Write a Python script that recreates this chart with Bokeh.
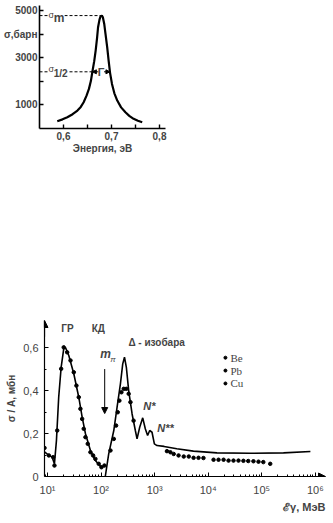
import numpy as np
from bokeh.plotting import figure
from bokeh.models import (Range1d, FixedTicker, Label, Arrow, NormalHead,
                          CustomJSTickFormatter, Title)
from bokeh.embed import file_html
from bokeh.resources import INLINE

# ---------------- top chart data (resonance curve) ----------------
res_energy = [0.587, 0.598, 0.608, 0.619, 0.629, 0.636, 0.642, 0.648, 0.653, 0.657,
              0.660, 0.664, 0.667, 0.670, 0.672, 0.675, 0.677, 0.680, 0.682, 0.685,
              0.6875, 0.691, 0.694, 0.697, 0.701, 0.706, 0.712, 0.720, 0.729, 0.737,
              0.746, 0.755, 0.764]
res_sigma = [289, 370, 460, 590, 744, 900, 1099, 1380, 1668, 2000,
             2377, 2850, 3300, 3850, 4293, 4620, 4749, 4790, 4720, 4420,
             4011, 3450, 2874, 2350, 1880, 1480, 1170, 880, 672, 520,
             391, 310, 246]
top_x_ticks = [0.6, 0.7, 0.8]
top_y_ticks = [1000, 3000, 4000, 5000]

# ---------------- bottom chart data (photoabsorption) ----------------
gr_energy = [8.8, 10.5, 12.2, 13.5, 14.7, 16.2, 18.0, 20.1, 21.7, 25.0, 31.0, 38.4,
             44.4, 51.2, 63.4, 78.5, 95.0, 110.0]
gr_sigma = [0.115, 0.100, 0.090, 0.060, 0.167, 0.369, 0.508, 0.594, 0.600, 0.563, 0.478,
            0.369, 0.276, 0.199, 0.121, 0.074, 0.050, 0.043]

delta_energy = [120, 139, 173, 199, 230, 254, 274, 297, 328, 380, 437, 470, 527, 600,
                670, 740, 810, 895, 990, 1110, 1500, 2600, 5300, 14600, 61000, 255000,
                810000]
delta_sigma = [0.0, 0.105, 0.214, 0.322, 0.431, 0.524, 0.555, 0.508, 0.400, 0.291,
               0.214, 0.175, 0.229, 0.273, 0.222, 0.191, 0.214, 0.206, 0.152, 0.144,
               0.140, 0.129, 0.118, 0.110, 0.108, 0.110, 0.116]

dot_energy = [8.8, 10.6, 12.8, 13.5, 15.2, 18.0, 20.1, 23.3, 26.9, 31.0, 34.7, 38.4,
              41.2, 44.4, 47.5, 51.2, 56.5, 63.4, 71.1, 78.5, 90.5, 101.7, 115.7,
              150, 173, 191, 205, 220, 240, 265, 297, 328, 354, 405,
              1700, 1970, 2270, 2800, 3500, 4340, 5340, 6600, 8160, 12600, 15600,
              19400, 24000, 29700, 36800, 45500, 56000, 70000, 87000, 107000, 144000]
dot_sigma = [0.133, 0.098, 0.090, 0.051, 0.214, 0.501, 0.601, 0.578, 0.540, 0.485,
             0.423, 0.369, 0.315, 0.268, 0.222, 0.183, 0.152, 0.113, 0.098, 0.082,
             0.059, 0.043, 0.051,
             0.121, 0.175, 0.237, 0.299, 0.353, 0.392, 0.408, 0.408, 0.385, 0.346, 0.260,
             0.118, 0.113, 0.105, 0.098, 0.093, 0.093, 0.087, 0.087, 0.086, 0.078, 0.078,
             0.078, 0.074, 0.074, 0.074, 0.073, 0.072, 0.071, 0.069, 0.067, 0.059]
legend_labels = ["Be", "Pb", "Cu"]
bot_x_ticks = [10, 100, 1000, 10000, 100000, 1000000]
bot_y_ticks = [0, 0.2, 0.4, 0.6]

SANS = "Liberation Sans"
SERIF = "Liberation Serif"

# ======================= TOP FIGURE =======================
p1 = figure(width=333, height=160, x_range=Range1d(0.55, 0.8125), y_range=Range1d(-20, 5220),
            output_backend="svg", toolbar_location=None,
            min_border_left=39, min_border_right=168, min_border_top=5, min_border_bottom=32)
p1.outline_line_color = None
p1.grid.visible = False

p1.line(res_energy, res_sigma, line_width=2.2, color="black")

pk = int(np.argmax(res_sigma))
E_pk, S_pk = res_energy[pk], res_sigma[pk]
half = S_pk / 2.0
E_left = float(np.interp(half, res_sigma[:pk + 1], res_energy[:pk + 1]))
E_right = float(np.interp(half, res_sigma[pk:][::-1], res_energy[pk:][::-1]))

p1.line([0.55, E_pk], [S_pk, S_pk], line_dash="3 2", line_width=1, color="black")
p1.line([0.55, E_left], [half, half], line_dash="3 2", line_width=1, color="black")

for txt, x, y, size, bold in [("σ", 0.569, S_pk + 20, "9px", False),
                              ("m", 0.5795, S_pk - 120, "12px", True),
                              ("σ", 0.569, half + 110, "9px", False),
                              ("1/2", 0.5795, half - 80, "10px", True)]:
    p1.add_layout(Label(x=x, y=y, text=txt, text_font=SANS, text_font_size=size,
                        text_font_style="bold" if bold else "normal",
                        text_baseline="middle", text_align="left",
                        background_fill_color="white"))

Ec = (E_left + E_right) / 2
p1.add_layout(Label(x=Ec, y=half, text="Γ", text_font=SANS, text_font_size="11px",
                    text_font_style="bold", text_align="center", text_baseline="middle"))
p1.add_layout(Arrow(x_start=Ec - 0.006, y_start=half, x_end=E_left, y_end=half,
                    line_width=1, end=NormalHead(size=4, fill_color="black", line_width=1)))
p1.add_layout(Arrow(x_start=Ec + 0.006, y_start=half, x_end=E_right, y_end=half,
                    line_width=1, end=NormalHead(size=4, fill_color="black", line_width=1)))

for ax in (p1.xaxis[0], p1.yaxis[0]):
    ax.axis_line_width = 1.6
    ax.major_tick_line_width = 1.4
    ax.minor_tick_line_width = 1.4
    ax.major_tick_out = 0
    ax.major_tick_in = 4
    ax.minor_tick_out = 0
    ax.minor_tick_in = 4
    ax.major_label_text_font = SANS
    ax.major_label_text_font_style = "bold"
    ax.major_label_text_font_size = "10px"
    ax.axis_label_text_font = SANS
    ax.axis_label_text_font_style = "bold"
    ax.axis_label_text_font_size = "10px"

p1.xaxis.ticker = FixedTicker(ticks=top_x_ticks, minor_ticks=[0.65, 0.75])
p1.xaxis.formatter = CustomJSTickFormatter(code="return tick.toFixed(1).replace('.', ',');")
p1.xaxis.axis_label = "Энергия, эВ"
p1.xaxis.axis_label_standoff = 0
p1.xaxis.major_label_standoff = 3
p1.yaxis.ticker = FixedTicker(ticks=top_y_ticks, minor_ticks=[2000])
p1.yaxis.formatter = CustomJSTickFormatter(code="return tick == 4000 ? 'σ,барн' : String(tick);")
p1.yaxis.major_label_standoff = 2

# ======================= BOTTOM FIGURE =======================
p2 = figure(width=333, height=363, x_axis_type="log",
            x_range=Range1d(8.8, 1.55e6), y_range=Range1d(0, 0.726),
            output_backend="svg", toolbar_location=None,
            min_border_left=44, min_border_right=8, min_border_top=160, min_border_bottom=47)
p2.outline_line_color = None
p2.grid.visible = False

p2.line(gr_energy, gr_sigma, line_width=1.6, color="black")
p2.line(delta_energy, delta_sigma, line_width=1.6, color="black")
p2.scatter(dot_energy, dot_sigma, size=3.5, color="black")

# axis arrows
p2.add_layout(Arrow(x_start=8.8, y_start=0.65, x_end=8.8, y_end=0.726, line_width=1.2,
                    end=NormalHead(size=7, fill_color="black", line_width=1)))
p2.add_layout(Arrow(x_start=9e5, y_start=0, x_end=1.55e6, y_end=0, line_width=1.2,
                    end=NormalHead(size=7, fill_color="black", line_width=1)))

for ax in (p2.xaxis[0], p2.yaxis[0]):
    ax.axis_line_width = 1.2
    ax.major_tick_out = 0
    ax.major_tick_in = 4
    ax.minor_tick_out = 0
    ax.minor_tick_in = 2
    ax.major_label_text_font = SANS
    ax.major_label_text_font_size = "11px"
    ax.axis_label_text_font = SANS
    ax.axis_label_text_font_style = "bold"
    ax.axis_label_text_font_size = "10px"

minor_log = [k * 10.0 ** d for d in range(0, 7) for k in range(2, 10)]
p2.xaxis.ticker = FixedTicker(ticks=bot_x_ticks, minor_ticks=minor_log)
p2.xaxis.formatter = CustomJSTickFormatter(code="""
const s = {1:'¹',2:'²',3:'³',4:'⁴',5:'⁵',6:'⁶'};
return '10' + s[Math.round(Math.log10(tick))];""")
p2.xaxis.major_label_standoff = 7
p2.yaxis.ticker = FixedTicker(ticks=bot_y_ticks, minor_ticks=[0.1, 0.3, 0.5, 0.7])
p2.yaxis.formatter = CustomJSTickFormatter(
    code="return tick == 0 ? '0' : tick.toFixed(1).replace('.', ',');")
p2.yaxis.major_label_standoff = 6
p2.yaxis.axis_label = "σ / A, мбн"
p2.yaxis.axis_label_standoff = 3

# x-axis quantity shown at the lower right, below the tick labels
p2.add_layout(Title(text="ℰγ, МэВ", align="right", text_font=SANS, text_font_size="11px",
                    text_font_style="bold", standoff=0, offset=0), "below")

def lab(fig, x, y, text, size="10px", style="bold", align="center", font=SANS,
        baseline="middle"):
    fig.add_layout(Label(x=x, y=y, text=text, text_font=font, text_font_size=size,
                         text_font_style=style, text_align=align, text_baseline=baseline))

lab(p2, 23.6, 0.688, "ГР")
lab(p2, 89, 0.688, "КД")
lab(p2, 324, 0.623, "Δ - изобара", align="left")
lab(p2, 121, 0.572, "m", size="12px", style="bold italic")
lab(p2, 166, 0.545, "π", size="8px", style="italic")
p2.add_layout(Arrow(x_start=117, y_start=0.50, x_end=117, y_end=0.293, line_width=1,
                    end=NormalHead(size=6, fill_color="black", line_width=1)))
lab(p2, 617, 0.33, "N*", size="11px", style="bold italic", align="left")
lab(p2, 1120, 0.225, "N**", size="11px", style="bold italic", align="left")

for i, name in enumerate(legend_labels):
    yy = 0.553 - i * 0.06
    p2.scatter([2.1e4], [yy], size=3, color="black")
    lab(p2, 2.6e4, yy, name, size="11px", style="normal", align="left", font=SERIF)

open("out.html", "w").write(file_html([p1, p2], INLINE))
